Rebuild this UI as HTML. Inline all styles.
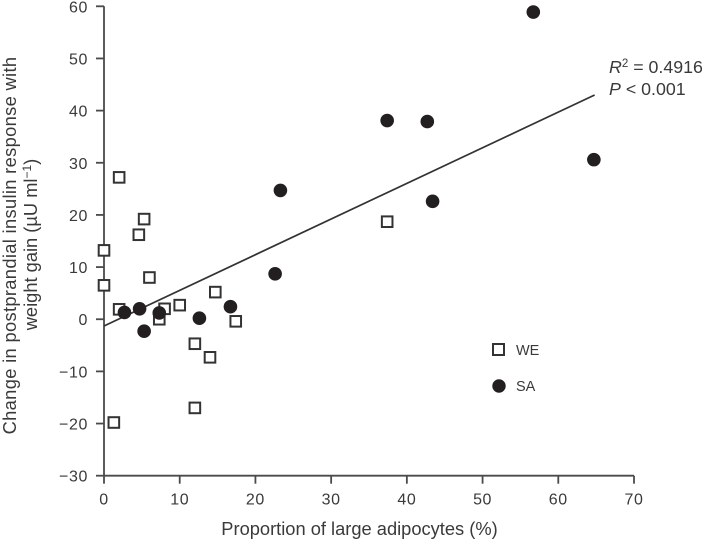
<!DOCTYPE html>
<html>
<head>
<meta charset="utf-8">
<style>
html,body{margin:0;padding:0;background:#fff;width:703px;height:541px;overflow:hidden}
svg{display:block}
text{font-family:"Liberation Sans",sans-serif;fill:#3a3a3a}
</style>
</head>
<body>
<svg id="chart" width="703" height="541" viewBox="0 0 703 541" xmlns="http://www.w3.org/2000/svg">
  <g id="axes"></g>
  <line id="fit" stroke="#333" stroke-width="1.7"></line>
  <g id="points"></g>
  <text font-size="18.3" letter-spacing="0.34" text-anchor="middle" transform="translate(16,245.5) rotate(-90)">Change in postprandial insulin response with</text>
  <text font-size="18.3" text-anchor="middle" transform="translate(37,244.5) rotate(-90)">weight gain (µU ml<tspan font-size="12" dy="-6">−1</tspan><tspan dy="6">)</tspan></text>
  <text font-size="18.3" text-anchor="middle" x="359.5" y="535">Proportion of large adipocytes (%)</text>
  <text font-size="17.8" x="609" y="73"><tspan font-style="italic">R</tspan><tspan font-size="11.5" dy="-6">2</tspan><tspan dy="6"> = 0.4916</tspan></text>
  <text font-size="17.8" x="609" y="95"><tspan font-style="italic">P</tspan> &lt; 0.001</text>
  <rect x="493" y="344" width="11" height="11" fill="#fff" stroke="#333" stroke-width="2"></rect>
  <text font-size="14.5" x="516" y="355">WE</text>
  <circle cx="499" cy="386" r="6.7" fill="#231f20"></circle>
  <text font-size="14.5" x="516" y="391">SA</text>
</svg>
<script>
const xTicks = [0, 10, 20, 30, 40, 50, 60, 70];
const yTicks = [60, 50, 40, 30, 20, 10, 0, -10, -20, -30];
const weX = [2, 5.3, 4.6, 0, 0, 6, 2, 8, 7.3, 10, 14.7, 17.4, 12, 14, 12, 1.3, 37.4];
const weY = [27.2, 19.2, 16.2, 13.2, 6.5, 8, 1.9, 2, 0, 2.7, 5.2, -0.4, -4.7, -7.3, -17, -19.8, 18.7];
const saX = [2.7, 4.7, 5.3, 7.3, 12.6, 16.7, 22.6, 23.3, 37.4, 42.7, 43.4, 56.7, 64.7];
const saY = [1.3, 2, -2.3, 1.2, 0.2, 2.4, 8.7, 24.7, 38.1, 37.9, 22.6, 58.9, 30.6];
const fitX = [0, 64.8];
const fitY = [-1.3, 43];

const NS = 'http://www.w3.org/2000/svg';
const sx = v => 104 + v * (530 / 70);
const sy = v => 6.3 + (60 - v) * (469.4 / 90);
function mk(tag, attrs, parent) {
  const el = document.createElementNS(NS, tag);
  for (const k in attrs) el.setAttribute(k, attrs[k]);
  parent.appendChild(el);
  return el;
}
const axes = document.getElementById('axes');
const axisStyle = { stroke: '#4a4a4a', 'stroke-width': 1.8, fill: 'none' };

const yAxis = mk('line', { x1: sx(0), x2: sx(0), y1: sy(60), y2: sy(-30), ...axisStyle }, axes);


const xAxis = mk('line', { x1: sx(0), x2: sx(70), y1: sy(-30), y2: sy(-30), ...axisStyle }, axes);



yTicks.forEach(t => {
  const tick = mk('line', { x1: sx(0) - 8, x2: sx(0), y1: sy(t), y2: sy(t), ...axisStyle }, axes);
  
  
  const lab = mk('text', { x: 88, y: sy(t) + 6, 'text-anchor': 'end', 'font-size': 16, 'letter-spacing': 0.6 }, axes);
  
  
  lab.textContent = String(t).replace('-', '\u2212');
});
xTicks.forEach(t => {
  const tick = mk('line', { x1: sx(t), x2: sx(t), y1: sy(-30), y2: sy(-30) + 8, ...axisStyle }, axes);
  
  
  const lab = mk('text', { x: sx(t), y: 504.5, 'text-anchor': 'middle', 'font-size': 16, 'letter-spacing': 0.6 }, axes);
  
  
  lab.textContent = String(t);
});

const fit = document.getElementById('fit');
fit.setAttribute('x1', sx(fitX[0]));
fit.setAttribute('y1', sy(fitY[0]));
fit.setAttribute('x2', sx(fitX[1]));
fit.setAttribute('y2', sy(fitY[1]));

const pts = document.getElementById('points');
weX.forEach((v, i) => {
  const r = mk('rect', { x: sx(v) - 5.3, y: sy(weY[i]) - 5.3, width: 10.6, height: 10.6, fill: '#fff', stroke: '#333', 'stroke-width': 2 }, pts);
  
  
});
saX.forEach((v, i) => {
  const c = mk('circle', { cx: sx(v), cy: sy(saY[i]), r: 6.8, fill: '#231f20' }, pts);
  
  
});
</script>
</body>
</html>
